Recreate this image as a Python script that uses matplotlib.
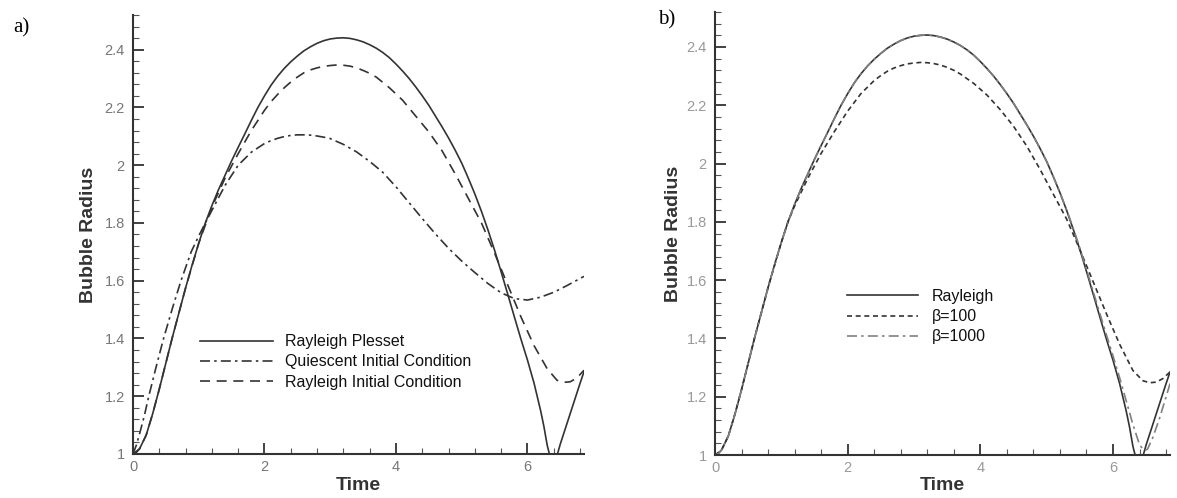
"""
Bubble radius vs time: (a) Rayleigh-Plesset vs initial conditions, (b) effect of beta
Output: out.png
"""
import numpy as np
import matplotlib.pyplot as plt
from matplotlib.ticker import MultipleLocator, FuncFormatter

plt.rcParams['font.family'] = ['Liberation Sans', 'DejaVu Sans']

# === Data ===
# Rayleigh-Plesset solution (same curve in both panels)
t_rp = [0.0, 0.05, 0.1, 0.2, 0.3, 0.4, 0.5, 0.6, 0.7, 0.8, 0.9, 1.0, 1.1, 1.2,
        1.3, 1.4, 1.5, 1.6, 1.7, 1.8, 1.9, 2.0, 2.1, 2.2, 2.3, 2.4, 2.5, 2.6,
        2.7, 2.8, 2.9, 3.0, 3.1, 3.2, 3.3, 3.4, 3.5, 3.6, 3.7, 3.8, 3.9, 4.0,
        4.1, 4.2, 4.3, 4.4, 4.5, 4.6, 4.7, 4.8, 4.9, 5.0, 5.1, 5.2, 5.3, 5.4,
        5.5, 5.6, 5.7, 5.8, 5.9, 6.0, 6.1, 6.2, 6.25, 6.3, 6.35, 6.4, 6.45,
        6.5, 6.6, 6.7, 6.8, 6.86]
r_rp = [1.0, 1.005, 1.018, 1.065, 1.14, 1.225, 1.315, 1.405, 1.49, 1.575, 1.655,
        1.73, 1.80, 1.86, 1.915, 1.965, 2.015, 2.062, 2.108, 2.155, 2.2, 2.24,
        2.277, 2.308, 2.335, 2.358, 2.378, 2.396, 2.41, 2.422, 2.431, 2.437,
        2.44, 2.441, 2.439, 2.434, 2.427, 2.417, 2.405, 2.39, 2.372, 2.35,
        2.326, 2.3, 2.271, 2.24, 2.207, 2.17, 2.133, 2.094, 2.052, 2.007, 1.955,
        1.9, 1.84, 1.775, 1.705, 1.63, 1.553, 1.475, 1.398, 1.325, 1.245, 1.15,
        1.095, 1.03, 0.985, 0.975, 0.995, 1.035, 1.105, 1.175, 1.245, 1.285]

# (a) quiescent initial condition
t_quiet = [0.0, 0.05, 0.1, 0.17, 0.24, 0.35, 0.465, 0.6, 0.73, 0.885, 1.0, 1.1,
           1.25, 1.4, 1.6, 1.8, 2.0, 2.1, 2.2, 2.3, 2.4, 2.5, 2.6, 2.7, 2.8,
           2.9, 3.0, 3.2, 3.4, 3.6, 3.8, 4.0, 4.2, 4.4, 4.6, 4.8, 5.0, 5.2, 5.4,
           5.6, 5.8, 6.0, 6.2, 6.4, 6.6, 6.86]
r_quiet = [1.0, 1.03, 1.07, 1.13, 1.2, 1.3, 1.4, 1.505, 1.6, 1.7, 1.755, 1.80,
           1.865, 1.93, 2.0, 2.045, 2.075, 2.085, 2.093, 2.099, 2.103, 2.105,
           2.105, 2.104, 2.101, 2.097, 2.092, 2.072, 2.046, 2.013, 1.975, 1.925,
           1.87, 1.815, 1.762, 1.712, 1.668, 1.628, 1.59, 1.558, 1.538, 1.533,
           1.543, 1.56, 1.583, 1.615]

# (a) Rayleigh initial condition
t_rayic = [0.0, 0.1, 0.2, 0.3, 0.4, 0.5, 0.6, 0.8, 1.0, 1.2, 1.4, 1.6, 1.8, 2.0,
           2.1, 2.2, 2.3, 2.4, 2.5, 2.6, 2.7, 2.8, 2.9, 3.0, 3.1, 3.2, 3.3, 3.4,
           3.5, 3.6, 3.7, 3.9, 4.1, 4.3, 4.5, 4.7, 4.9, 5.1, 5.3, 5.5, 5.7, 5.9,
           6.1, 6.3, 6.45, 6.55, 6.65, 6.75, 6.86]
r_rayic = [1.0, 1.018, 1.065, 1.14, 1.225, 1.315, 1.405, 1.575, 1.73, 1.855,
           1.955, 2.04, 2.12, 2.19, 2.22, 2.245, 2.268, 2.288, 2.305, 2.32, 2.33,
           2.337, 2.342, 2.345, 2.347, 2.346, 2.343, 2.337, 2.328, 2.318, 2.305,
           2.268, 2.225, 2.17, 2.115, 2.05, 1.97, 1.885, 1.80, 1.695, 1.585,
           1.475, 1.375, 1.295, 1.255, 1.248, 1.25, 1.263, 1.29]

# (b) beta = 100
t_b100 = [0.0, 0.1, 0.2, 0.3, 0.4, 0.5, 0.6, 0.8, 1.0, 1.1, 1.2, 1.4, 1.6, 1.8,
          2.0, 2.2, 2.4, 2.5, 2.6, 2.7, 2.8, 2.9, 3.0, 3.1, 3.2, 3.3, 3.4, 3.5,
          3.6, 3.7, 3.9, 4.1, 4.3, 4.5, 4.7, 4.9, 5.1, 5.3, 5.5, 5.7, 5.9, 6.1,
          6.3, 6.45, 6.55, 6.65, 6.75, 6.86]
r_b100 = [1.0, 1.018, 1.065, 1.14, 1.225, 1.315, 1.405, 1.575, 1.73, 1.80, 1.855,
          1.95, 2.035, 2.11, 2.18, 2.24, 2.285, 2.302, 2.317, 2.328, 2.336,
          2.342, 2.345, 2.347, 2.346, 2.343, 2.338, 2.33, 2.32, 2.307, 2.275,
          2.235, 2.185, 2.128, 2.06, 1.98, 1.895, 1.81, 1.705, 1.595, 1.485,
          1.38, 1.29, 1.255, 1.248, 1.25, 1.262, 1.285]

# (b) beta = 1000
t_b1000 = [0.0, 0.05, 0.1, 0.2, 0.3, 0.4, 0.5, 0.6, 0.7, 0.8, 0.9, 1.0, 1.1, 1.2,
           1.3, 1.4, 1.5, 1.6, 1.7, 1.8, 1.9, 2.0, 2.1, 2.2, 2.3, 2.4, 2.5, 2.6,
           2.7, 2.8, 2.9, 3.0, 3.1, 3.2, 3.3, 3.4, 3.5, 3.6, 3.7, 3.8, 3.9, 4.0,
           4.1, 4.2, 4.3, 4.4, 4.5, 4.6, 4.7, 4.8, 4.9, 5.0, 5.1, 5.2, 5.3, 5.4,
           5.5, 5.6, 5.7, 5.8, 5.9, 6.0, 6.1, 6.2, 6.3, 6.4, 6.47, 6.52, 6.6,
           6.7, 6.8, 6.86]
r_b1000 = [1.0, 1.005, 1.018, 1.065, 1.14, 1.225, 1.315, 1.405, 1.49, 1.575,
           1.655, 1.73, 1.80, 1.86, 1.915, 1.965, 2.015, 2.062, 2.108, 2.155,
           2.2, 2.24, 2.277, 2.308, 2.335, 2.358, 2.378, 2.396, 2.41, 2.422,
           2.431, 2.437, 2.44, 2.441, 2.439, 2.434, 2.427, 2.417, 2.405, 2.39,
           2.372, 2.35, 2.326, 2.3, 2.271, 2.24, 2.207, 2.17, 2.133, 2.094,
           2.052, 2.007, 1.955, 1.9, 1.842, 1.778, 1.71, 1.637, 1.562, 1.487,
           1.413, 1.34, 1.265, 1.185, 1.105, 1.035, 1.015, 1.02, 1.06, 1.125,
           1.2, 1.245]

labels_a = ['Rayleigh Plesset', 'Quiescent Initial Condition', 'Rayleigh Initial Condition']
labels_b = ['Rayleigh', '\u03b2=100', '\u03b2=1000']

# === Figure ===
fig = plt.figure(figsize=(11.77, 4.98), dpi=100)
ax_a = fig.add_axes([0.113, 0.0884, 0.3832, 0.8815])
ax_b = fig.add_axes([0.6075, 0.0863, 0.3866, 0.8896])

lw = 1.2
ax_a.plot(t_rp, r_rp, color='#333333', lw=lw, label=labels_a[0])
ax_a.plot(t_quiet, r_quiet, color='#333333', lw=lw, dashes=(6, 2.5, 1.5, 2.5), label=labels_a[1])
ax_a.plot(t_rayic, r_rayic, color='#333333', lw=lw, dashes=(6, 4), label=labels_a[2])

ax_b.plot(t_rp, r_rp, color='#333333', lw=lw, label=labels_b[0])
ax_b.plot(t_b100, r_b100, color='#333333', lw=lw, dashes=(3, 2.2), label=labels_b[1])
ax_b.plot(t_b1000, r_b1000, color='#808080', lw=lw, dashes=(6, 2.5, 1.5, 2.5), label=labels_b[2])


def style_axes(ax, tick_color):
    ax.set_xlim(0, 6.86)
    ax.set_ylim(1, 2.52)
    for s in ['top', 'right']:
        ax.spines[s].set_visible(False)
    for s in ['left', 'bottom']:
        ax.spines[s].set_color('#333333')
        ax.spines[s].set_linewidth(1.5)
    ax.xaxis.set_major_locator(MultipleLocator(2))
    ax.xaxis.set_minor_locator(MultipleLocator(0.4))
    ax.yaxis.set_major_locator(MultipleLocator(0.2))
    ax.yaxis.set_minor_locator(MultipleLocator(0.04))
    ax.yaxis.set_major_formatter(FuncFormatter(lambda v, p: f'{v:g}'))
    ax.xaxis.set_major_formatter(FuncFormatter(lambda v, p: f'{v:g}'))
    ax.tick_params(which='major', direction='in', length=8, width=1.3, color='#333333',
                   labelsize=10.5, labelcolor=tick_color)
    ax.tick_params(which='minor', direction='in', length=4.3, width=0.8, color='#555555')
    ax.tick_params(axis='x', which='major', pad=4)
    ax.tick_params(axis='y', which='major', pad=6)


style_axes(ax_a, '#777777')
style_axes(ax_b, '#999999')

ax_a.set_ylabel('Bubble Radius', fontsize=14, fontweight='bold', color='#333333')
ax_a.set_xlabel('Time', fontsize=14, fontweight='bold', color='#333333')
ax_a.yaxis.set_label_coords(-0.0805, 0.5)
ax_a.xaxis.set_label_coords(0.5, -0.052)
ax_b.set_ylabel('Bubble Radius', fontsize=14, fontweight='bold', color='#333333')
ax_b.set_xlabel('Time', fontsize=14, fontweight='bold', color='#333333')
ax_b.yaxis.set_label_coords(-0.0725, 0.5)
ax_b.xaxis.set_label_coords(0.5, -0.05)

leg_a = ax_a.legend(loc='upper left', bbox_to_anchor=(0.1486, 0.273), frameon=False,
                    fontsize=11.5, handlelength=4.57, handletextpad=0.75,
                    labelspacing=0.33, borderpad=0, borderaxespad=0)
leg_b = ax_b.legend(loc='upper left', bbox_to_anchor=(0.29, 0.375), frameon=False,
                    fontsize=11.5, handlelength=4.45, handletextpad=0.87,
                    labelspacing=0.33, borderpad=0, borderaxespad=0)
for leg in (leg_a, leg_b):
    for txt in leg.get_texts():
        txt.set_color('#111111')

fig.text(0.011, 0.9357, 'a)', fontsize=15, family='Liberation Serif')
fig.text(0.559, 0.95, 'b)', fontsize=15, family='Liberation Serif')

fig.savefig('out.png', dpi=100, facecolor='white')
plt.close()
